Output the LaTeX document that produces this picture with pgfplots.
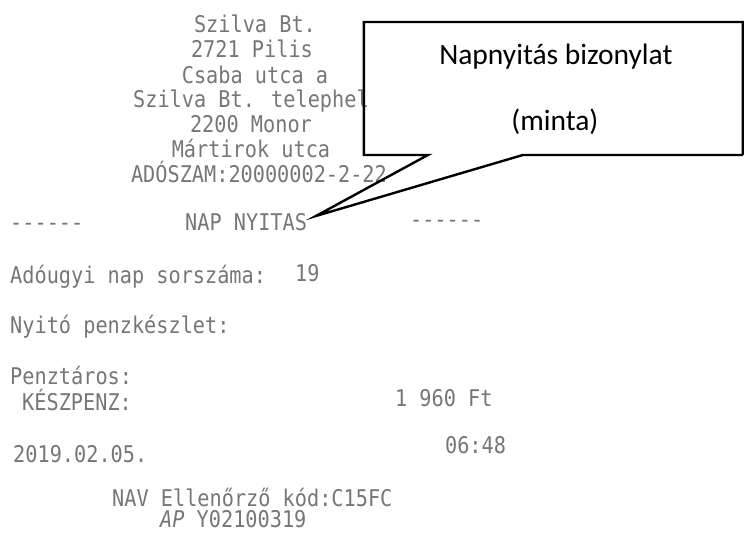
\documentclass[border=0pt]{standalone}
\usepackage{fontspec}
\usepackage{pgfplots}
\pgfplotsset{compat=1.18}
\setmainfont{Carlito}
\newfontfamily\rcpt[FakeStretch=0.88]{DejaVu Sans Mono}
\definecolor{rgray}{HTML}{767676}
\begin{document}
\begin{tikzpicture}
\begin{axis}[width=744pt, height=535pt, scale only axis,
  xmin=0, xmax=744, ymin=0, ymax=535, y dir=reverse,
  hide axis, clip=false]
% page frame (invisible)
\addplot[white, line width=0.1pt] coordinates {(0,0) (744,0) (744,535) (0,535) (0,0)};
% receipt text
\begin{scope}[every node/.style={inner sep=0pt, text=rgray, font=\rcpt\fontsize{23}{26}\selectfont}]
\node[anchor=base] at (axis cs:255,32) {Szilva Bt.};
\node[anchor=base] at (axis cs:252,57) {2721 Pilis};
\node[anchor=base] at (axis cs:255,83) {Csaba utca a};
\node[anchor=base west] at (axis cs:133,107) {Szilva Bt. telephel};
\node[anchor=base] at (axis cs:251,132) {2200 Monor};
\node[anchor=base] at (axis cs:251,158) {Mártirok utca};
\node[anchor=base] at (axis cs:259,183) {ADÓSZAM:20000002-2-22};
\node[anchor=base west] at (axis cs:10,231) {------};
\node[anchor=base west] at (axis cs:185,231) {NAP NYITAS};
\node[anchor=base west] at (axis cs:410,228) {------};
\node[anchor=base west] at (axis cs:10,284) {Adóugyi nap sorszáma:};
\node[anchor=base west] at (axis cs:295,282) {19};
\node[anchor=base west] at (axis cs:10,334) {Nyitó penzkészlet:};
\node[anchor=base west] at (axis cs:10,385) {Penztáros:};
\node[anchor=base west] at (axis cs:22,411) {KÉSZPENZ:};
\node[anchor=base west] at (axis cs:395,407) {1 960 Ft};
\node[anchor=base west] at (axis cs:13,463) {2019.02.05.};
\node[anchor=base west] at (axis cs:445,454) {06:48};
\node[anchor=base west, text depth=0pt] at (axis cs:112,507) {NAV Ellenőrző kód:C15FC};
\node[anchor=base west, text height=16pt, text depth=0pt] at (axis cs:160,528) {\itshape AP\upshape\ Y02100319};
\end{scope}
% callout shape
\addplot[black, line width=2.4pt, line join=miter] coordinates {
 (743,155) (523,155) (316,216) (428,155) (364,155) (364,22) (743,22) (743,155)};
% callout text
\node[anchor=base, inner sep=0pt, font=\fontsize{29.5}{32}\selectfont] at (axis cs:556,64) {Napnyitás bizonylat};
\node[anchor=base, inner sep=0pt, font=\fontsize{29.5}{32}\selectfont] at (axis cs:555,130) {(minta)};
\end{axis}
\end{tikzpicture}
\end{document}
